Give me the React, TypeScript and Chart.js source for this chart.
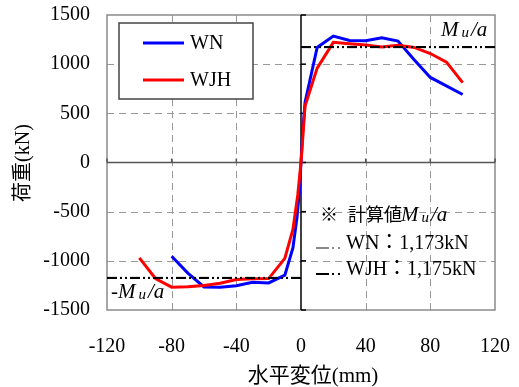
import React, { useEffect, useRef } from "react";
import { Chart, registerables } from "chart.js";

Chart.register(...registerables);

// ---- data ----
const SERIES_NAMES = ["WN", "WJH"];
const WN_X = [-80, -70, -60, -50, -40, -30, -20, -10, -5, -2.5, -1, 0, 1, 2.5, 10, 20, 30, 40, 50, 60, 70, 80, 100];
const WN_Y = [-954, -1125, -1265, -1268, -1253, -1218, -1225, -1145, -870, -560, -300, 0, 300, 610, 1170, 1285, 1240, 1238, 1268, 1235, 1045, 865, 692];
const WJH_X = [-100, -90, -80, -70, -60, -50, -40, -30, -20, -10, -5, -2, 0, 2.5, 10, 20, 30, 40, 50, 60, 70, 80, 90, 100];
const WJH_Y = [-970, -1180, -1268, -1263, -1250, -1228, -1190, -1183, -1181, -975, -680, -330, 0, 573, 960, 1222, 1208, 1195, 1174, 1192, 1170, 1108, 1021, 812];
const MU_WN = 1173;
const MU_WJH = 1175;
const X_RANGE = [-120, 120];
const Y_RANGE = [-1500, 1500];
const X_TICKS = [-120, -80, -40, 0, 40, 80, 120];
const Y_TICKS = [-1500, -1000, -500, 0, 500, 1000, 1500];
const X_TITLE = "水平変位(mm)";
const Y_TITLE = "荷重(kN)";
const NOTE_TITLE = "計算値";
const NOTE_ROWS = ["WN：1,173kN", "WJH：1,175kN"];

const SERIF = "'Liberation Serif', 'Noto Sans CJK JP'";
const BLUE = "#0000ff";
const RED = "#ff0000";

function pts(xs: number[], ys: number[]) {
  return xs.map((x, i) => ({ x, y: ys[i] }));
}

function drawMuA(ctx: CanvasRenderingContext2D, x: number, y: number, big: number, small: number, prefix: string) {
  ctx.textAlign = "left";
  ctx.textBaseline = "alphabetic";
  ctx.fillStyle = "#000";
  let cx = x;
  if (prefix) {
    ctx.font = `${big}px ${SERIF}`;
    ctx.fillText(prefix, cx, y);
    cx += ctx.measureText(prefix).width;
  }
  ctx.font = `italic ${big}px ${SERIF}`;
  ctx.fillText("M", cx, y);
  cx += ctx.measureText("M").width + 3;
  ctx.font = `italic ${small}px ${SERIF}`;
  ctx.fillText("u", cx, y + 1);
  cx += ctx.measureText("u").width + 2;
  ctx.font = `italic ${big}px ${SERIF}`;
  ctx.fillText("/a", cx, y);
}

const decor = {
  id: "decor",
  beforeDatasetsDraw(chart: any) {
    const { ctx, chartArea: a, scales } = chart;
    const xs = scales.x, ys = scales.y;
    ctx.save();
    ctx.strokeStyle = "#999";
    ctx.lineWidth = 1;
    ctx.setLineDash([7, 5]);
    for (const v of X_TICKS) {
      if (v === 0 || v === X_RANGE[0] || v === X_RANGE[1]) continue;
      const px = Math.round(xs.getPixelForValue(v)) + 0.5;
      ctx.beginPath(); ctx.moveTo(px, a.top); ctx.lineTo(px, a.bottom); ctx.stroke();
    }
    for (const v of Y_TICKS) {
      if (v === 0 || v === Y_RANGE[0] || v === Y_RANGE[1]) continue;
      const py = Math.round(ys.getPixelForValue(v)) + 0.5;
      ctx.beginPath(); ctx.moveTo(a.left, py); ctx.lineTo(a.right, py); ctx.stroke();
    }
    ctx.setLineDash([]);
    ctx.strokeStyle = "#8a8a8a";
    ctx.lineWidth = 1.5;
    ctx.strokeRect(a.left, a.top, a.right - a.left, a.bottom - a.top);
    const x0 = xs.getPixelForValue(0);
    const y0 = ys.getPixelForValue(0);
    ctx.strokeStyle = "#555";
    ctx.lineWidth = 1.5;
    ctx.beginPath(); ctx.moveTo(a.left, y0); ctx.lineTo(a.right, y0); ctx.stroke();
    for (const v of X_TICKS) {
      const px = xs.getPixelForValue(v);
      ctx.beginPath(); ctx.moveTo(px, y0 - 4); ctx.lineTo(px, y0); ctx.stroke();
    }
    ctx.strokeStyle = "#000";
    ctx.beginPath(); ctx.moveTo(x0, a.top); ctx.lineTo(x0, a.bottom); ctx.stroke();
    for (const v of Y_TICKS) {
      const py = ys.getPixelForValue(v);
      ctx.beginPath(); ctx.moveTo(x0, py); ctx.lineTo(x0 + 5, py); ctx.stroke();
    }
    ctx.restore();
  },
  afterDatasetsDraw(chart: any) {
    const { ctx, chartArea: a } = chart;
    ctx.save();
    const lx = a.left + 12, ly = a.top + 8, lw = 134, lh = 76;
    ctx.fillStyle = "#fff";
    ctx.fillRect(lx, ly, lw, lh);
    ctx.strokeStyle = "#444";
    ctx.lineWidth = 1.5;
    ctx.strokeRect(lx, ly, lw, lh);
    const cols = [BLUE, RED];
    SERIES_NAMES.forEach((name, i) => {
      const yy = ly + 20 + i * 37;
      ctx.strokeStyle = cols[i];
      ctx.lineWidth = 3;
      ctx.beginPath(); ctx.moveTo(lx + 24, yy); ctx.lineTo(lx + 65, yy); ctx.stroke();
      ctx.fillStyle = "#000";
      ctx.font = `20px ${SERIF}`;
      ctx.textAlign = "left";
      ctx.textBaseline = "middle";
      ctx.fillText(name, lx + 71, yy + 1);
    });
    drawMuA(ctx, a.right - 54, a.top + 21, 21, 15, "");
    drawMuA(ctx, a.left + 4, a.bottom - 12, 21, 15, "-");
    ctx.fillStyle = "#000";
    ctx.font = `18px 'Noto Sans CJK JP'`;
    ctx.textAlign = "left";
    ctx.textBaseline = "middle";
    ctx.fillText("※", 320, 214);
    ctx.fillText(NOTE_TITLE, 348, 214);
    drawMuA(ctx, 401, 221, 21, 15, "");
    const sampleCols = ["#888", "#000"];
    NOTE_ROWS.forEach((t, i) => {
      const yy = 248 + i * 26;
      ctx.strokeStyle = sampleCols[i];
      ctx.lineWidth = 2;
      ctx.setLineDash([13, 3, 2, 4, 2, 40]);
      ctx.beginPath(); ctx.moveTo(316, yy); ctx.lineTo(343, yy); ctx.stroke();
      ctx.setLineDash([]);
      ctx.fillStyle = "#000";
      ctx.font = `20px ${SERIF}`;
      ctx.fillText(t, 346, yy + 1);
    });
    ctx.fillStyle = "#000";
    ctx.font = `21px ${SERIF}`;
    ctx.textAlign = "center";
    ctx.textBaseline = "middle";
    ctx.fillText(X_TITLE, 313, 376);
    ctx.translate(24, 163);
    ctx.rotate(-Math.PI / 2);
    ctx.font = `20px ${SERIF}`;
    ctx.fillText(Y_TITLE, 0, 0);
    ctx.restore();
  },
};

export default function App() {
  const ref = useRef<HTMLCanvasElement>(null);
  useEffect(() => {
    const muDash = [10, 3, 2, 3, 2, 3];
    const chart = new Chart(ref.current!, {
      type: "scatter",
      data: {
        datasets: [
          {
            label: "Mu WN +",
            data: [{ x: 0, y: MU_WN }, { x: X_RANGE[1], y: MU_WN }],
            showLine: true, borderColor: "#888", borderWidth: 2, borderDash: muDash, pointRadius: 0, order: 1,
          },
          {
            label: "Mu WN -",
            data: [{ x: X_RANGE[0], y: -MU_WN }, { x: 0, y: -MU_WN }],
            showLine: true, borderColor: "#888", borderWidth: 2, borderDash: muDash, pointRadius: 0, order: 1,
          },
          {
            label: "Mu WJH +",
            data: [{ x: 0, y: MU_WJH }, { x: X_RANGE[1], y: MU_WJH }],
            showLine: true, borderColor: "#000", borderWidth: 2, borderDash: muDash, pointRadius: 0, order: 0,
          },
          {
            label: "Mu WJH -",
            data: [{ x: X_RANGE[0], y: -MU_WJH }, { x: 0, y: -MU_WJH }],
            showLine: true, borderColor: "#000", borderWidth: 2, borderDash: muDash, pointRadius: 0, order: 0,
          },
          {
            label: SERIES_NAMES[1],
            data: pts(WJH_X, WJH_Y),
            showLine: true, borderColor: RED, borderWidth: 3, pointRadius: 0, order: 2,
          },
          {
            label: SERIES_NAMES[0],
            data: pts(WN_X, WN_Y),
            showLine: true, borderColor: BLUE, borderWidth: 3, pointRadius: 0, order: 3,
          },
        ],
      },
      options: {
        animation: false,
        responsive: false,
        maintainAspectRatio: false,
        layout: { padding: { top: 15, right: 24, left: 0, bottom: 0 } },
        plugins: { legend: { display: false }, tooltip: { enabled: false } },
        scales: {
          x: {
            type: "linear",
            min: X_RANGE[0],
            max: X_RANGE[1],
            afterBuildTicks: (s: any) => { s.ticks = X_TICKS.map((v) => ({ value: v })); },
            afterFit: (s: any) => { s.height = 77; s.paddingLeft = 0; s.paddingRight = 0; },
            grid: { display: false, drawTicks: false },
            border: { display: false },
            ticks: { color: "#000", font: { family: SERIF, size: 20 }, padding: 25, maxRotation: 0, callback: (v: any) => String(v) },
          },
          y: {
            type: "linear",
            min: Y_RANGE[0],
            max: Y_RANGE[1],
            afterBuildTicks: (s: any) => { s.ticks = Y_TICKS.map((v) => ({ value: v })); },
            afterFit: (s: any) => { s.width = 107; s.paddingTop = 0; s.paddingBottom = 0; },
            grid: { display: false, drawTicks: false },
            border: { display: false },
            ticks: { color: "#000", font: { family: SERIF, size: 20 }, padding: 17, callback: (v: any) => String(v) },
          },
        },
      },
      plugins: [decor],
    } as any);
    return () => chart.destroy();
  }, []);
  return (
    <div style={{ position: "fixed", left: 0, top: 0, width: 519, height: 387, background: "#fff" }}>
      <canvas ref={ref} width={519} height={387} style={{ display: "block", width: 519, height: 387 }} />
    </div>
  );
}
